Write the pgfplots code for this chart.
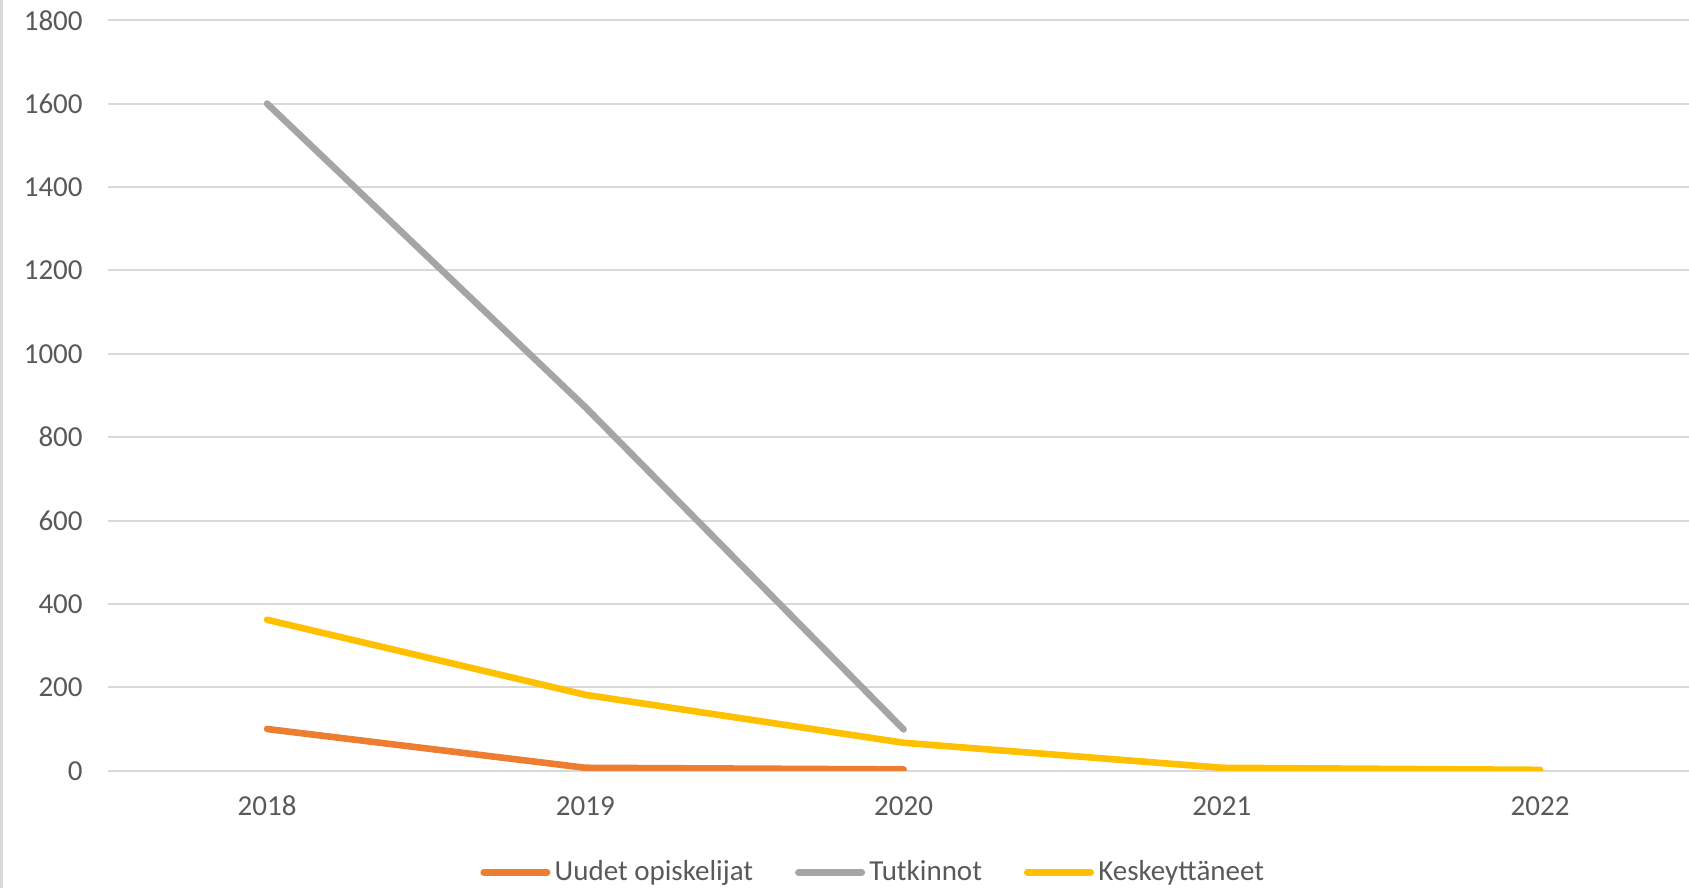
\documentclass[border=0pt]{standalone}
\usepackage{pgfplots}
\pgfplotsset{compat=1.18}
\usepackage{fontspec}
\setmainfont{Carlito}
\definecolor{cOrange}{HTML}{ED7D31}
\definecolor{cGray}{HTML}{A5A5A5}
\definecolor{cYellow}{HTML}{FFC000}
\definecolor{cGrid}{HTML}{D9D9D9}
\definecolor{cText}{HTML}{595959}
\begin{document}
\begin{tikzpicture}
\begin{axis}[
  scale only axis,
  width=790.5pt, height=375.2pt,
  xmin=-0.5, xmax=4.468,
  ymin=0, ymax=1800,
  xtick={0,1,2,3,4},
  xticklabels={2018,2019,2020,2021,2022},
  ytick={0,200,...,1800},
  axis line style={draw=none},
  tick style={draw=none},
  ymajorgrids,
  grid style={color=cGrid, line width=1pt},
  /pgf/number format/assume math mode=true,
  /pgf/number format/1000 sep={},
  tick label style={font=\fontsize{14.5pt}{17pt}\selectfont, text=cText, inner sep=0pt},
  yticklabel style={anchor=east, xshift=-12.5pt},
  xticklabel style={anchor=center, yshift=-17.5pt},
  legend columns=3,
  legend style={
    draw=none, fill=none, inner sep=0pt,
    at={(rel axis cs:0.2353,0)}, anchor=west, yshift=-50.8pt,
    font=\fontsize{14.5pt}{17pt}\selectfont, text=cText,
    nodes={inner sep=0pt},
    /tikz/every odd column/.append style={column sep=2.15pt},
    /tikz/every even column/.append style={column sep=21pt},
  },
  legend image code/.code={\draw[#1, line width=3.4pt, line cap=round] (1.7pt,0pt) -- (33.3pt,0pt);},
  clip=true,
]
\coordinate (bl) at (rel axis cs:0,0);
\coordinate (tr) at (rel axis cs:1,1);
\addplot[color=cOrange, line width=3.3pt, line cap=round, line join=round] coordinates {(0,100) (1,7) (2,3)};
\addlegendentry{Uudet opiskelijat}
\addplot[color=cGray, line width=3.3pt, line cap=round, line join=round] coordinates {(0,1600) (1,872) (2,99)};
\addlegendentry{Tutkinnot}
\addplot[color=cYellow, line width=3.3pt, line cap=round, line join=round] coordinates {(0,362) (1,182) (2,67) (3,7) (4,2)};
\addlegendentry{Keskeyttäneet}
\end{axis}
\pgfresetboundingbox
\path[use as bounding box] ([xshift=-54pt,yshift=-58.65pt]bl) rectangle ([yshift=10.15pt]tr);
\fill[cGrid] ([xshift=-54pt,yshift=-58.65pt]bl) rectangle ([xshift=-52.5pt,yshift=10.15pt]bl |- tr);
\end{tikzpicture}
\end{document}
